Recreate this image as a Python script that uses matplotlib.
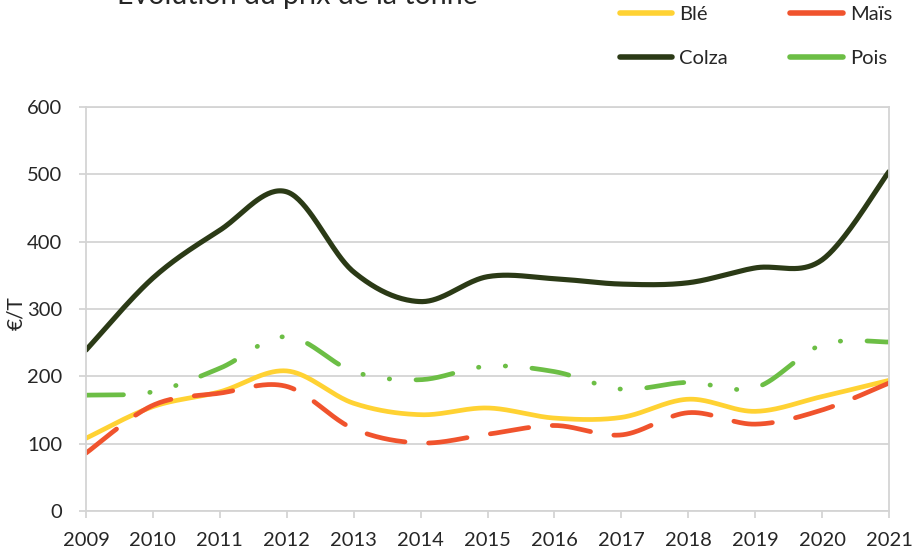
import numpy as np
import matplotlib
matplotlib.use("Agg")
import matplotlib.pyplot as plt
from matplotlib.lines import Line2D

plt.rcParams['font.family'] = ['Lato', 'DejaVu Sans']
plt.rcParams['lines.scale_dashes'] = False

# prix de la tonne (€/T)
annees = [2009, 2010, 2011, 2012, 2013, 2014, 2015, 2016, 2017, 2018, 2019, 2020, 2021]
ble = [108, 155, 177, 208, 160, 143, 153, 138, 139, 166, 148, 170, 194]
mais = [86, 157, 175, 185, 122, 101, 114, 127, 113, 146, 129, 150, 190]
colza = [239, 346, 417, 474, 355, 311, 348, 345, 337, 339, 361, 373, 504]
pois = [172, 177, 212, 259, 207, 195, 215, 207, 181, 191, 183, 247, 251]

noms = ["Blé", "Maïs", "Colza", "Pois"]
couleurs = ["#FFD233", "#F0532D", "#2B3A16", "#6CBE45"]


def lisser(x, y, n=40):
    # courbe lissée façon tableur (Bézier avec tangentes Catmull-Rom)
    x = np.asarray(x, float)
    y = np.asarray(y, float)
    px = np.concatenate([[x[0]], x, [x[-1]]])
    py = np.concatenate([[y[0]], y, [y[-1]]])
    t = np.linspace(0, 1, n)
    xs, ys = [], []
    for i in range(1, len(x)):
        p0 = np.array([px[i], py[i]])
        p3 = np.array([px[i + 1], py[i + 1]])
        c1 = p0 + (np.array([px[i + 1], py[i + 1]]) - np.array([px[i - 1], py[i - 1]])) / 6
        c2 = p3 - (np.array([px[i + 2], py[i + 2]]) - np.array([px[i], py[i]])) / 6
        b = ((1 - t) ** 3)[:, None] * p0 + (3 * (1 - t) ** 2 * t)[:, None] * c1 \
            + (3 * (1 - t) * t ** 2)[:, None] * c2 + (t ** 3)[:, None] * p3
        xs.append(b[:, 0])
        ys.append(b[:, 1])
    return np.concatenate(xs), np.concatenate(ys)


fig = plt.figure(figsize=(9.17, 5.53), dpi=100)
ax = fig.add_axes([86 / 917, 1 - 511 / 553, 803 / 917, 404 / 553])

gris = "#D4D4D4"
ax.yaxis.grid(True, color=gris, lw=1.3)
ax.set_axisbelow(True)
for s in ax.spines.values():
    s.set_color(gris)
    s.set_linewidth(1.3)

lw = 3.4
x, y = lisser(annees, ble)
ax.plot(x, y, color=couleurs[0], lw=lw, solid_capstyle='round')
x, y = lisser(annees, mais)
ax.plot(x, y, color=couleurs[1], lw=lw, dash_capstyle='round', dashes=(28, 17))
x, y = lisser(annees, colza)
ax.plot(x, y, color=couleurs[2], lw=3.7, solid_capstyle='round')
x, y = lisser(annees, pois)
ax.plot(x, y, color=couleurs[3], lw=lw, dash_capstyle='round',
        dashes=(27, 19, 0.3, 19, 0.3, 19))

ax.set_xlim(2009, 2021)
ax.set_ylim(0, 600)
ax.set_xticks(annees)
ax.set_yticks(range(0, 601, 100))
ax.tick_params(axis='both', colors=gris, length=5, width=1.3, labelsize=14.5,
               labelcolor="#262626")
ax.tick_params(axis='x', pad=10)
ax.tick_params(axis='y', pad=12)
ax.set_ylabel("€/T", fontsize=15, color="#262626")
ax.yaxis.set_label_coords(-0.075, 0.49)

fig.text(117 / 917, 1 - 4 / 553, "Évolution du prix de la tonne", fontsize=20.5,
         color="#262626", va='baseline', ha='left')

# ordre colonne par colonne pour avoir Blé/Maïs puis Colza/Pois en lignes
ordre = [0, 2, 1, 3]
poignees = [Line2D([], [], color=couleurs[i], lw=4, solid_capstyle='round') for i in ordre]
fig.legend(poignees, [noms[i] for i in ordre], loc='upper left',
           bbox_to_anchor=(620 / 917, 1 - 6 / 553),
           ncol=2, frameon=False, fontsize=14.5, handlelength=2.6, handletextpad=0.35,
           columnspacing=3.1, labelspacing=1.35, borderpad=0, borderaxespad=0,
           labelcolor="#262626")

fig.savefig("out.png", dpi=100)
